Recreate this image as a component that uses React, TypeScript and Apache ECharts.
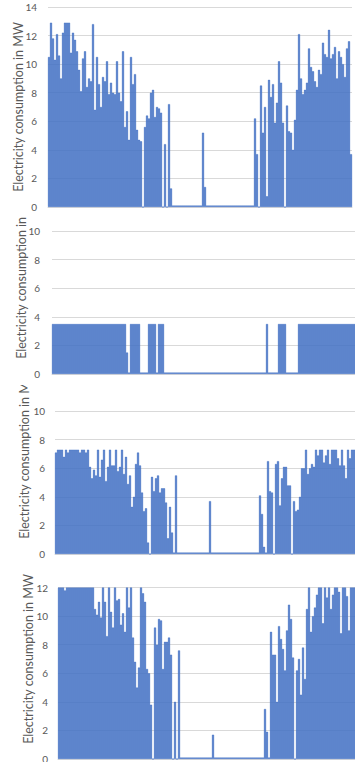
import React, { useEffect, useRef } from 'react';
import * as echarts from 'echarts';

// Four stacked consumption profiles (values in MW, one bar per ~2.4-day period)
const plant1MW = [
  10.5, 12.9, 11.8, 10.3, 12.1, 10.6, 9.0, 12.2, 12.9, 12.9,
  12.9, 10.8, 12.2, 11.7, 10.9, 9.6, 8.1, 10.4, 10.9, 8.4,
  9.0, 8.8, 12.8, 6.8, 10.5, 8.6, 7.0, 9.1, 8.8, 10.2,
  7.9, 8.7, 8.0, 7.9, 10.2, 8.0, 7.4, 10.9, 5.6, 6.7,
  4.7, 10.5, 8.6, 9.3, 5.4, 4.7, 4.6, 0, 5.6, 6.4,
  6.2, 8.0, 8.2, 6.3, 7.0, 6.9, 6.6, 0, 4.4, 0,
  7.2, 1.3, 0.1, 0.1, 0.1, 0.1, 0.1, 0.1, 0.1, 0.1,
  0.1, 0.1, 0.1, 0.1, 0.1, 0.1, 0.1, 5.2, 1.4, 0.1,
  0.1, 0.1, 0.1, 0.1, 0.1, 0.1, 0.1, 0.1, 0.1, 0.1,
  0.1, 0.1, 0.1, 0.1, 0.1, 0.1, 0.1, 0.1, 0.1, 0.1,
  0.1, 0.1, 0.1, 6.2, 3.7, 0, 8.5, 5.2, 7.0, 0.75,
  8.9, 7.7, 8.6, 5.9, 7.3, 10.2, 8.7, 5.9, 0, 7.1,
  5.3, 5.2, 4.0, 6.1, 8.2, 12.1, 9.0, 7.9, 8.2, 8.7,
  11.1, 9.8, 9.5, 8.8, 8.4, 9.6, 9.3, 11.5, 10.7, 10.5,
  12.4, 10.4, 10.7, 11.2, 9.0, 10.9, 10.5, 10.0, 9.1, 11.1,
  11.6, 3.7,
];

const plant2MW = [
  3.5, 3.5, 3.5, 3.5, 3.5, 3.5, 3.5, 3.5, 3.5, 3.5,
  3.5, 3.5, 3.5, 3.5, 3.5, 3.5, 3.5, 3.5, 3.5, 3.5,
  3.5, 3.5, 3.5, 3.5, 3.5, 3.5, 3.5, 3.5, 3.5, 3.5,
  3.5, 3.5, 3.5, 3.5, 3.5, 3.5, 3.5, 1.5, 0.1, 3.5,
  3.5, 3.5, 3.5, 3.5, 0.1, 0.1, 0.1, 0.1, 3.5, 3.5,
  3.5, 3.5, 0.1, 3.5, 3.5, 3.5, 0.1, 0.1, 0.1, 0.1,
  0.1, 0.1, 0.1, 0.1, 0.1, 0.1, 0.1, 0.1, 0.1, 0.1,
  0.1, 0.1, 0.1, 0.1, 0.1, 0.1, 0.1, 0.1, 0.1, 0.1,
  0.1, 0.1, 0.1, 0.1, 0.1, 0.1, 0.1, 0.1, 0.1, 0.1,
  0.1, 0.1, 0.1, 0.1, 0.1, 0.1, 0.1, 0.1, 0.1, 0.1,
  0.1, 0.1, 0.1, 0.1, 0.1, 0.1, 0.1, 3.5, 0.1, 0.1,
  0.1, 0.1, 0.1, 3.5, 3.5, 3.5, 3.5, 0.1, 0.1, 0.1,
  0.1, 0.1, 0.1, 3.5, 3.5, 3.5, 3.5, 3.5, 3.5, 3.5,
  3.5, 3.5, 3.5, 3.5, 3.5, 3.5, 3.5, 3.5, 3.5, 3.5,
  3.5, 3.5, 3.5, 3.5, 3.5, 3.5, 3.5, 3.5, 3.5, 3.5,
  3.5, 3.5,
];

const plant3MW = [
  7.1, 7.3, 7.3, 7.3, 6.8, 7.3, 7.1, 7.3, 7.3, 7.3,
  7.3, 7.3, 7.1, 7.3, 7.3, 7.1, 7.3, 6.1, 5.3, 5.9,
  5.5, 7.3, 5.4, 6.6, 7.3, 5.1, 6.1, 7.3, 6.2, 6.2,
  7.3, 5.8, 6.1, 7.3, 5.6, 6.8, 4.9, 5.5, 3.3, 4.0,
  6.3, 7.1, 6.2, 4.3, 3.0, 3.2, 0.8, 0, 5.4, 4.4,
  5.3, 5.5, 4.3, 4.6, 4.6, 3.6, 1.1, 3.3, 1.5, 0.1,
  5.5, 0.1, 0.1, 0.1, 0.1, 0.1, 0.1, 0.1, 0.1, 0.1,
  0.1, 0.1, 0.1, 0.1, 0.1, 0.1, 0.1, 3.7, 0.1, 0.1,
  0.1, 0.1, 0.1, 0.1, 0.1, 0.1, 0.1, 0.1, 0.1, 0.1,
  0.1, 0.1, 0.1, 0.1, 0.1, 0.1, 0.1, 0.1, 0.1, 0.1,
  0.1, 0.1, 4.1, 2.8, 0.5, 0.1, 6.5, 4.4, 4.3, 0,
  6.3, 6.5, 3.4, 5.3, 6.1, 6.1, 4.8, 4.8, 0, 3.7,
  3.0, 3.1, 4.0, 6.0, 6.0, 7.3, 5.6, 6.0, 6.3, 6.1,
  7.3, 6.9, 7.3, 7.3, 6.4, 6.9, 7.3, 6.3, 7.3, 7.3,
  7.3, 6.7, 6.2, 7.3, 6.2, 5.3, 7.3, 6.7, 7.3, 7.3,
  7.3, 7.3,
];

const plant4MW = [
  12, 12, 12, 11.8, 12, 12, 12, 12, 12, 12,
  12, 12, 12, 12, 12, 12, 12, 12, 10.5, 10.1,
  11.0, 9.9, 12, 11.0, 8.6, 12, 10.3, 9.2, 12, 11.1,
  11.2, 9.4, 10.2, 8.9, 12, 10.6, 12, 8.5, 6.8, 5.0,
  6.4, 12, 11.6, 11.0, 6.3, 6.0, 3.8, 0, 9.2, 8.0,
  9.8, 9.7, 6.3, 8.2, 8.2, 8.5, 7.3, 0, 4.0, 0,
  7.6, 0.1, 0.1, 0.1, 0.1, 0.1, 0.1, 0.1, 0.1, 0.1,
  0.1, 0.1, 0.1, 0.1, 0.1, 0.1, 0.1, 1.7, 0.1, 0.1,
  0.1, 0.1, 0.1, 0.1, 0.1, 0.1, 0.1, 0.1, 0.1, 0.1,
  0.1, 0.1, 0.1, 0.1, 0.1, 0.1, 0.1, 0.1, 0.1, 0.1,
  0.1, 0.1, 0.1, 3.5, 1.9, 0.1, 8.9, 7.3, 7.3, 4.0,
  9.3, 8.4, 7.7, 6.2, 9.0, 10.8, 9.8, 7.1, 0, 6.2,
  7.0, 4.5, 7.8, 5.6, 10.5, 12, 8.9, 10.0, 10.6, 11.5,
  12, 12, 9.5, 12, 11.3, 12, 10.5, 11.5, 12, 12,
  11.7, 8.8, 12, 12, 11.4, 9.0, 12, 12, 12, 12,
  12, 12,
];

const periods = plant1MW.map((_, i) => String(i + 1));
const yAxisTitle = 'Electricity consumption in MW';
const yMin = 0;
const yMax = 14;
const yStep = 2;

type PanelProps = {
  values: number[];
  left: number;
  top: number;
  clipTop: number;
  clipBottom: number;
  labelMargin: number;
  nameGap: number;
  topLabel: number;
};

function Panel({ values, left, top, clipTop, clipBottom, labelMargin, nameGap, topLabel }: PanelProps) {
  const ref = useRef<HTMLDivElement>(null);
  useEffect(() => {
    if (!ref.current) return;
    const chart = echarts.init(ref.current, null, { renderer: 'svg' });
    chart.setOption({
      animation: false,
      grid: { left, top, width: 304, height: 200, outerBoundsMode: 'none', containLabel: false },
      xAxis: {
        type: 'category',
        data: periods,
        axisLabel: { show: false },
        axisTick: { show: false },
        axisLine: { show: true, lineStyle: { color: '#d9d9d9', width: 1 } },
        splitLine: { show: false },
      },
      yAxis: {
        type: 'value',
        min: yMin,
        max: yMax,
        interval: yStep,
        axisLine: { show: false },
        axisTick: { show: false },
        axisLabel: {
          color: '#595959',
          fontSize: 10,
          fontFamily: 'Lato',
          margin: labelMargin,
          formatter: (v: number) => (v > topLabel ? '' : String(v)),
        },
        splitLine: { lineStyle: { color: '#d9d9d9', width: 1 } },
        name: yAxisTitle,
        nameLocation: 'middle',
        nameGap,
        nameMoveOverlap: false,
        nameTextStyle: {
          color: '#595959',
          fontSize: 12.5,
          fontFamily: 'Lato',
        },
      },
      series: [
        {
          type: 'bar',
          data: values,
          barCategoryGap: '0%',
          barGap: '0%',
          itemStyle: { color: '#4472C4', borderColor: '#4472C4', borderWidth: 0.5 },
        },
      ],
    });
    return () => chart.dispose();
  }, []);
  return (
    <div
      style={{
        position: 'absolute',
        left: 0,
        top: clipTop,
        width: 355,
        height: clipBottom - clipTop,
        overflow: 'hidden',
      }}
    >
      <div
        ref={ref}
        style={{ position: 'absolute', left: 0, top: -clipTop, width: 372, height: 770 }}
      />
    </div>
  );
}

export default function App() {
  return (
    <div
      style={{
        position: 'fixed',
        left: 0,
        top: 0,
        width: 355,
        height: 762,
        overflow: 'hidden',
        background: '#ffffff',
      }}
    >
      <Panel values={plant1MW} left={48} top={7} clipTop={0} clipBottom={212} labelMargin={11} nameGap={23.5} topLabel={14} />
      <Panel values={plant2MW} left={52} top={174} clipTop={213} clipBottom={384} labelMargin={12} nameGap={24.5} topLabel={10} />
      <Panel values={plant3MW} left={55} top={354} clipTop={385} clipBottom={561} labelMargin={10} nameGap={24.5} topLabel={10} />
      <Panel values={plant4MW} left={58} top={559} clipTop={562} clipBottom={762} labelMargin={10} nameGap={23.5} topLabel={12} />
    </div>
  );
}
